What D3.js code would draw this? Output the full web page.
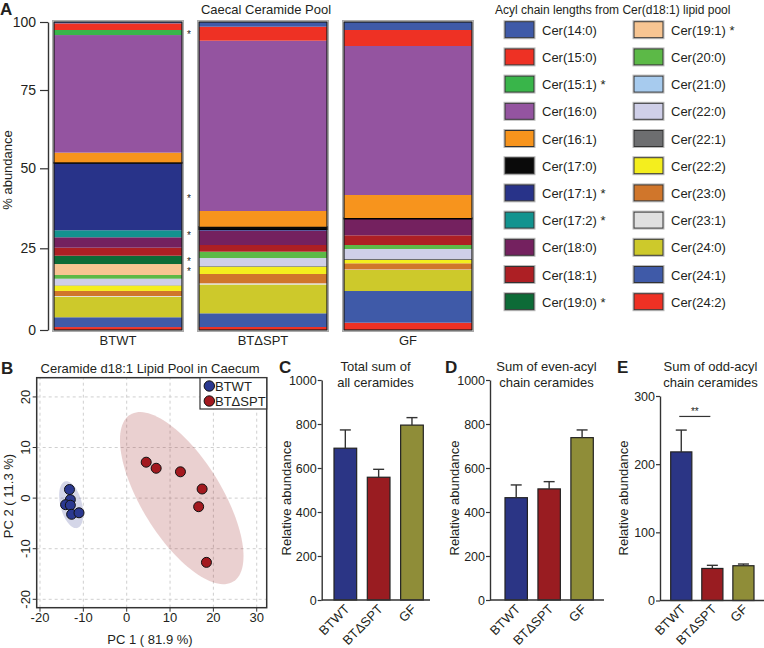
<!DOCTYPE html>
<html><head><meta charset="utf-8">
<script src="https://cdn.jsdelivr.net/npm/d3@7"></script>
<style>
body{margin:0;background:#fff;}
svg{display:block;font-family:"Liberation Sans",Arial,Helvetica,sans-serif;}
</style></head><body>
<svg id="c" width="764" height="648"></svg>
<script>
// ---------------- DATA ----------------
const groupsA = ["BTWT", "BTΔSPT", "GF"];
const lipidKeys = ["Cer(14:0)","Cer(15:0)","Cer(15:1)","Cer(16:0)","Cer(16:1)","Cer(17:0)","Cer(17:1)","Cer(17:2)","Cer(18:0)","Cer(18:1)","Cer(19:0)",
                   "Cer(19:1)","Cer(20:0)","Cer(21:0)","Cer(22:0)","Cer(22:1)","Cer(22:2)","Cer(23:0)","Cer(23:1)","Cer(24:0)","Cer(24:1)","Cer(24:2)"];
const starredKeys = ["Cer(15:1)","Cer(17:1)","Cer(17:2)","Cer(19:0)","Cer(19:1)"];
const lipidColors = ["#3f5aa8","#ee3124","#39b54a","#9454a0","#f7941d","#0a0a0a","#283389","#12938f","#74215f","#ad1f24","#0d6b37",
                     "#f7c592","#5cb947","#a7cbee","#cfcfe8","#6d6e70","#f4ee1e","#d0762b","#e0e0e0","#cdc92b","#3f5aa8","#ee3124"];
// % abundance per lipid, in lipidKeys order
const pctBTWT   = [0.50,2.44,1.86,40.20,3.10,0.30,20.97,2.19,3.25,2.46,2.54, 3.36,1.13,0.10,1.90,0.10,1.65,1.55,0.20,6.30,3.00,0.90];
const pctBTdSPT = [1.73,5.14,0.00,56.47,4.91,0.87,0.38,0.00,4.47,2.07,0.00, 0.00,1.93,0.00,2.45,0.21,2.23,2.85,0.37,8.81,4.19,0.92];
const pctGF     = [2.94,5.88,0.00,49.52,7.19,0.31,0.00,0.00,5.10,3.03,0.00, 0.00,1.24,0.00,2.97,0.40,1.01,1.89,0.16,6.43,9.70,2.23];
const ticksA = [0,25,50,75,100];

// PCA scores
const pcaGroups = ["BTWT","BTΔSPT"];
const pc1BTWT = [-13.2,-13.0,-14.1,-13.0,-12.7,-11.0];
const pc2BTWT = [1.7,-0.3,-1.3,-1.4,-3.2,-2.9];
const pc1BTdSPT = [4.5,6.8,12.4,17.4,16.6,18.4];
const pc2BTdSPT = [7.1,5.9,5.2,1.8,-1.7,-12.7];
// confidence ellipses: centre and the two semi-axis vectors, in PC units
const ellipseBTWT   = {cx:-12.8, cy:-1.3, ax:1.4, ay:-4.6, bx:-2.4, by:-0.55};
const ellipseBTdSPT = {cx:12.7,  cy:0.0,  ax:11.9, ay:-16.5, bx:-7.84, by:-4.15};
const ticksPC1 = [-20,-10,0,10,20,30];
const ticksPC2 = [-20,-10,0,10,20];

// Bar panels
const barGroups = ["BTWT","BTΔSPT","GF"];
const totalMean = [690,558,795], totalSEM = [83,36,34];
const evenMean  = [465,505,738], evenSEM  = [58,33,35];
const oddMean   = [218,47,51],   oddSEM   = [32,4.6,2.5];
const ticksSum = [0,200,400,600,800,1000];
const ticksOdd = [0,100,200,300];
const barColors = ["#2b3585","#991c21","#8f8d38"];

// ---------------- DRAW ----------------
const svg = d3.select("#c");
const TXT = "#231f20";

function letter(t, x, y){
  svg.append("text").attr("x",x).attr("y",y).attr("font-size",17).attr("font-weight","bold").attr("fill",TXT).text(t);
}
function styleAxis(g, fs){
  g.select(".domain").attr("stroke","#333").attr("stroke-width",1.4);
  g.selectAll(".tick line").attr("stroke","#333").attr("stroke-width",1.2);
  g.selectAll(".tick text").attr("font-size",fs).attr("fill",TXT).attr("font-family",'"Liberation Sans",Arial,sans-serif');
}

// ===== Panel A =====
letter("A", 0, 15);
const xA = d3.scaleBand().domain(groupsA).range([54,472]).paddingInner(17/145).paddingOuter(0);
// the printed axis is slightly compressed toward the top: piecewise-linear scale through its ticks
const yA = d3.scaleLinear().domain(ticksA).range([330,248.3,168.3,90,22]);
const pctA = [pctBTWT, pctBTdSPT, pctGF];
const rowsA = groupsA.map((g,gi)=>{const o={group:g}; lipidKeys.forEach((k,ki)=>o[k]=pctA[gi][ki]); return o;});
const stackA = d3.stack().keys(lipidKeys.slice().reverse())(rowsA);
const colorA = d3.scaleOrdinal(lipidKeys, lipidColors);

const gA = svg.append("g");
groupsA.forEach((g,gi)=>{
  const tot = d3.sum(pctA[gi]);
  gA.append("rect").attr("x",xA(g)-1.5).attr("y",yA(tot)-1.5).attr("width",xA.bandwidth()+3).attr("height",yA(0)-yA(tot)+3)
    .attr("fill","none").attr("stroke","#aaa").attr("stroke-width",1);
});
stackA.forEach(layer=>{
  gA.append("g").selectAll("rect").data(layer.filter(d=>d[1]-d[0]>0)).join("rect")
    .attr("x",d=>xA(d.data.group)).attr("width",xA.bandwidth())
    .attr("y",d=>yA(d[1])).attr("height",d=>yA(d[0])-yA(d[1]))
    .attr("fill",colorA(layer.key))
    .attr("stroke", layer.key==="Cer(17:0)" ? "#000" : "none").attr("stroke-width",1);
});
groupsA.forEach((g,gi)=>{
  const tot = d3.sum(pctA[gi]);
  gA.append("rect").attr("x",xA(g)).attr("y",yA(tot)).attr("width",xA.bandwidth()).attr("height",yA(0)-yA(tot))
    .attr("fill","none").attr("stroke","#1a1a1a").attr("stroke-width",1.2);
  gA.append("text").attr("x",xA(g)+xA.bandwidth()/2).attr("y",345).attr("text-anchor","middle")
    .attr("font-size",13).attr("fill",TXT).text(g);
});
// stars next to BTWT
stackA.filter(l=>starredKeys.includes(l.key)).forEach(layer=>{
  const d = layer[0];
  gA.append("text").attr("x",xA("BTWT")+xA.bandwidth()+5).attr("y",yA((d[0]+d[1])/2)+5.5)
    .attr("font-size",10).attr("fill",TXT).text("*");
});
const axA = gA.append("g").attr("transform","translate(48,0)")
  .call(d3.axisLeft(yA).tickValues(ticksA).tickSize(8).tickPadding(4).tickSizeOuter(0));
styleAxis(axA, 14);
gA.append("text").attr("transform","translate(12,170) rotate(-90)").attr("text-anchor","middle")
  .attr("font-size",13).attr("fill",TXT).text("% abundance");
gA.append("text").attr("x",266).attr("y",14).attr("text-anchor","middle").attr("font-size",13).attr("fill",TXT).text("Caecal Ceramide Pool");

// legend
gA.append("text").attr("x",495).attr("y",14).attr("font-size",12).attr("fill",TXT).text("Acyl chain lengths from Cer(d18:1) lipid pool");
lipidKeys.forEach((k,i)=>{
  const col = Math.floor(i/11), row = i%11;
  const sx = col===0 ? 505 : 634, cy = 29.7 + row*27.2;
  gA.append("rect").attr("x",sx-1).attr("y",cy-9).attr("width",31).attr("height",18).attr("fill","none").attr("stroke","#bbb").attr("stroke-width",1);
  gA.append("rect").attr("x",sx).attr("y",cy-8).attr("width",29).attr("height",16).attr("fill",colorA(k)).attr("stroke","#333").attr("stroke-width",1);
  gA.append("text").attr("x",sx+37).attr("y",cy+5).attr("font-size",13).attr("fill",TXT)
    .text(k + (starredKeys.includes(k) ? " *" : ""));
});

// ===== Panel B =====
letter("B", 1, 374);
const xB = d3.scaleLinear().domain([-20.76,32.3]).range([36.7,266.7]);
const yB = d3.scaleLinear().domain([-21.66,23.8]).range([607.7,377.7]);
const gB = svg.append("g");
gB.append("text").attr("x",150).attr("y",373).attr("text-anchor","middle").attr("font-size",13).attr("fill",TXT)
  .text("Ceramide d18:1 Lipid Pool in Caecum");
ticksPC1.forEach(t=>gB.append("line").attr("x1",xB(t)).attr("x2",xB(t)).attr("y1",yB.range()[0]).attr("y2",yB.range()[1])
  .attr("stroke","#cfcfcf").attr("stroke-dasharray","3,3"));
ticksPC2.forEach(t=>gB.append("line").attr("y1",yB(t)).attr("y2",yB(t)).attr("x1",xB.range()[0]).attr("x2",xB.range()[1])
  .attr("stroke","#cfcfcf").attr("stroke-dasharray","3,3"));
function ellipsePath(e){
  const pts = d3.range(0,121).map(i=>{const t=i/120*2*Math.PI;
    return [xB(e.cx+e.ax*Math.cos(t)+e.bx*Math.sin(t)), yB(e.cy+e.ay*Math.cos(t)+e.by*Math.sin(t))];});
  return d3.line().curve(d3.curveLinearClosed)(pts);
}
gB.append("path").attr("d",ellipsePath(ellipseBTdSPT)).attr("fill","rgb(160,40,40)").attr("fill-opacity",0.22);
gB.append("path").attr("d",ellipsePath(ellipseBTWT)).attr("fill","rgb(40,50,140)").attr("fill-opacity",0.2);
const pcaColors = {"BTWT":"#2b3990","BTΔSPT":"#a3191f"};
[[pc1BTWT,pc2BTWT,"BTWT"],[pc1BTdSPT,pc2BTdSPT,"BTΔSPT"]].forEach(([xs,ys,g])=>{
  gB.append("g").selectAll("circle").data(xs.map((x,i)=>[x,ys[i]])).join("circle")
    .attr("cx",d=>xB(d[0])).attr("cy",d=>yB(d[1])).attr("r",5)
    .attr("fill",pcaColors[g]).attr("stroke","#111").attr("stroke-width",1);
});
gB.append("rect").attr("x",xB.range()[0]).attr("y",yB.range()[1]).attr("width",xB.range()[1]-xB.range()[0]).attr("height",yB.range()[0]-yB.range()[1])
  .attr("fill","none").attr("stroke","#333").attr("stroke-width",1.5);
ticksPC1.forEach(t=>{
  gB.append("line").attr("x1",xB(t)).attr("x2",xB(t)).attr("y1",yB.range()[0]).attr("y2",yB.range()[0]+4).attr("stroke","#333");
  gB.append("text").attr("x",xB(t)).attr("y",622).attr("text-anchor","middle").attr("font-size",13).attr("fill",TXT).text(t);
});
ticksPC2.forEach(t=>{
  gB.append("line").attr("x1",xB.range()[0]-4).attr("x2",xB.range()[0]).attr("y1",yB(t)).attr("y2",yB(t)).attr("stroke","#333");
  gB.append("text").attr("transform",`translate(30,${yB(t)}) rotate(-90)`).attr("text-anchor","middle").attr("font-size",13).attr("fill",TXT).text(t);
});
gB.append("text").attr("x",150).attr("y",644).attr("text-anchor","middle").attr("font-size",13).attr("fill",TXT).text("PC 1 ( 81.9 %)");
gB.append("text").attr("transform","translate(13,496) rotate(-90)").attr("text-anchor","middle").attr("font-size",13).attr("fill",TXT).text("PC 2 ( 11.3 %)");
gB.append("rect").attr("x",200).attr("y",377.7).attr("width",66.7).attr("height",31.3).attr("fill","#fff").attr("stroke","#333").attr("stroke-width",1.2);
pcaGroups.forEach((g,i)=>{
  gB.append("circle").attr("cx",209.3).attr("cy",386+i*15).attr("r",5.2).attr("fill",pcaColors[g]).attr("stroke","#111");
  gB.append("text").attr("x",215).attr("y",391+i*15).attr("font-size",13).attr("fill",TXT).text(g);
});

// ===== Panels C, D, E =====
function barPanel(o){
  const g = svg.append("g");
  letter(o.letter, o.letterX, 373);
  const x = d3.scaleBand().domain(barGroups).range(o.band).paddingInner(o.pad).paddingOuter(0);
  const y = d3.scaleLinear().domain(o.domain).range(o.yrange);
  o.title.forEach((t,i)=>g.append("text").attr("x",o.titleX).attr("y",371+i*16).attr("text-anchor","middle").attr("font-size",13).attr("fill",TXT).text(t));
  g.selectAll("rect.bar").data(barGroups).join("rect").attr("class","bar")
    .attr("x",d=>x(d)).attr("width",x.bandwidth())
    .attr("y",(d,i)=>y(o.mean[i])).attr("height",(d,i)=>y(0)-y(o.mean[i]))
    .attr("fill",(d,i)=>barColors[i]).attr("stroke","#222").attr("stroke-width",1.2);
  barGroups.forEach((d,i)=>{
    const cx = x(d)+x.bandwidth()/2;
    g.append("line").attr("x1",cx).attr("x2",cx).attr("y1",y(o.mean[i])).attr("y2",y(o.mean[i]+o.sem[i])).attr("stroke","#333").attr("stroke-width",1.4);
    g.append("line").attr("x1",cx-5.5).attr("x2",cx+5.5).attr("y1",y(o.mean[i]+o.sem[i])).attr("y2",y(o.mean[i]+o.sem[i])).attr("stroke","#333").attr("stroke-width",1.4);
    g.append("text").attr("transform",`translate(${cx+5},610) rotate(-45)`).attr("text-anchor","end").attr("font-size",13).attr("fill",TXT).text(d);
  });
  g.append("line").attr("x1",o.axisX).attr("x2",o.xEnd).attr("y1",y(0)).attr("y2",y(0)).attr("stroke","#333").attr("stroke-width",1.4);
  const ax = g.append("g").attr("transform",`translate(${o.axisX},0)`)
    .call(d3.axisLeft(y).tickValues(o.ticks).tickFormat(d3.format("d")).tickSize(4).tickPadding(1).tickSizeOuter(0));
  styleAxis(ax, 12.5);
  g.append("text").attr("transform",`translate(${o.ylabX},498) rotate(-90)`).attr("text-anchor","middle").attr("font-size",13).attr("fill",TXT).text("Relative abundance");
  return {g,x,y};
}
barPanel({letter:"C",letterX:279,band:[334,423.3],pad:0.32,domain:[0,1000],yrange:[600,380],ticks:ticksSum,
  mean:totalMean,sem:totalSEM,title:["Total sum of","all ceramides"],titleX:375.5,axisX:321.7,xEnd:430,ylabX:291});
barPanel({letter:"D",letterX:445,band:[505,593.3],pad:0.32,domain:[0,1000],yrange:[600,380],ticks:ticksSum,
  mean:evenMean,sem:evenSEM,title:["Sum of even-acyl","chain ceramides"],titleX:546.5,axisX:490,xEnd:604,ylabX:459});
const pE = barPanel({letter:"E",letterX:617,band:[670.7,754],pad:0.32,domain:[0,300],yrange:[600.5,396],ticks:ticksOdd,
  mean:oddMean,sem:oddSEM,title:["Sum of odd-acyl","chain ceramides"],titleX:710.5,axisX:660,xEnd:764,ylabX:628});
const sigY = pE.y(270);
const sx1 = pE.x("BTWT")+pE.x.bandwidth()/2-2, sx2 = pE.x("BTΔSPT")+pE.x.bandwidth()/2-2;
pE.g.append("line").attr("x1",sx1).attr("x2",sx2).attr("y1",sigY).attr("y2",sigY).attr("stroke","#333").attr("stroke-width",1.2);
pE.g.append("text").attr("x",(sx1+sx2)/2).attr("y",sigY-1).attr("text-anchor","middle").attr("font-size",10).attr("fill",TXT).text("**");
</script>
</body></html>
